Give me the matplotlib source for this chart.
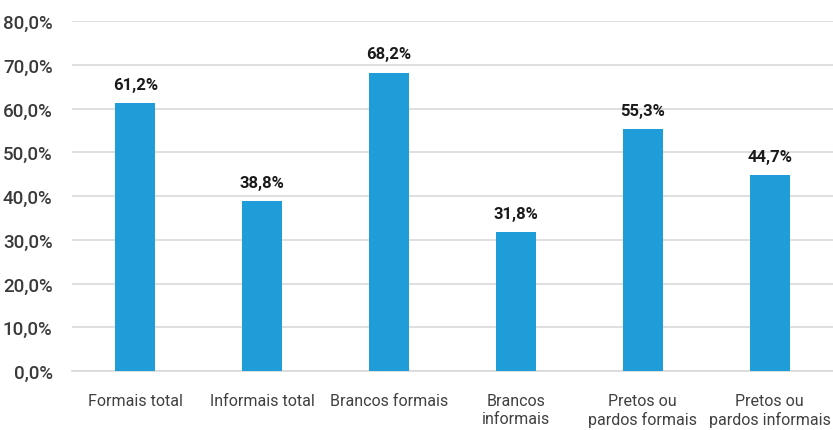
import matplotlib
matplotlib.use("Agg")
import matplotlib.pyplot as plt
from matplotlib.ticker import FuncFormatter

categories = ["Formais total", "Informais total", "Brancos formais", "Brancos\ninformais",
              "Pretos ou\npardos formais", "Pretos ou\npardos informais"]
values = [61.2, 38.8, 68.2, 31.8, 55.3, 44.7]
yticks = [0, 10, 20, 30, 40, 50, 60, 70, 80]

plt.rcParams['font.family'] = ['Roboto', 'DejaVu Sans']

fig = plt.figure(figsize=(8.33, 4.31), dpi=100)
ax = fig.add_axes([72/833, 1 - 372/431, 1 - 72/833, (372 - 22)/431])

x = range(len(categories))
ax.bar(x, values, width=0.315, color="#1e9dd8", zorder=3)
for xi, v in zip(x, values):
    ax.text(xi, v + 2.6, f"{v:.1f}%".replace(".", ","), ha="center", va="bottom",
            fontsize=12, fontweight="bold", color="#1a1a1a")

ax.set_xlim(-0.5, len(categories) - 0.5)
ax.set_ylim(0, 80)
ax.set_yticks(yticks)
ax.yaxis.set_major_formatter(FuncFormatter(lambda v, p: f"{v:.1f}%".replace(".", ",")))
ax.set_xticks(list(x))
ax.set_xticklabels(categories, fontsize=11.5, color="#404040", linespacing=1.25)
for lab in ax.get_yticklabels():
    lab.set_fontsize(13.5)
    lab.set_fontweight("medium")
    lab.set_color("#3a3a3a")
ax.grid(axis="y", color="#d9d9d9", linewidth=1.2, zorder=0)
for s in ["top", "right", "left"]:
    ax.spines[s].set_visible(False)
ax.spines["bottom"].set_color("#d9d9d9")
ax.spines["bottom"].set_linewidth(1.2)
ax.tick_params(axis="both", length=0)
ax.tick_params(axis="x", pad=16)
ax.tick_params(axis="y", pad=14)

fig.savefig("out.png", dpi=100)
